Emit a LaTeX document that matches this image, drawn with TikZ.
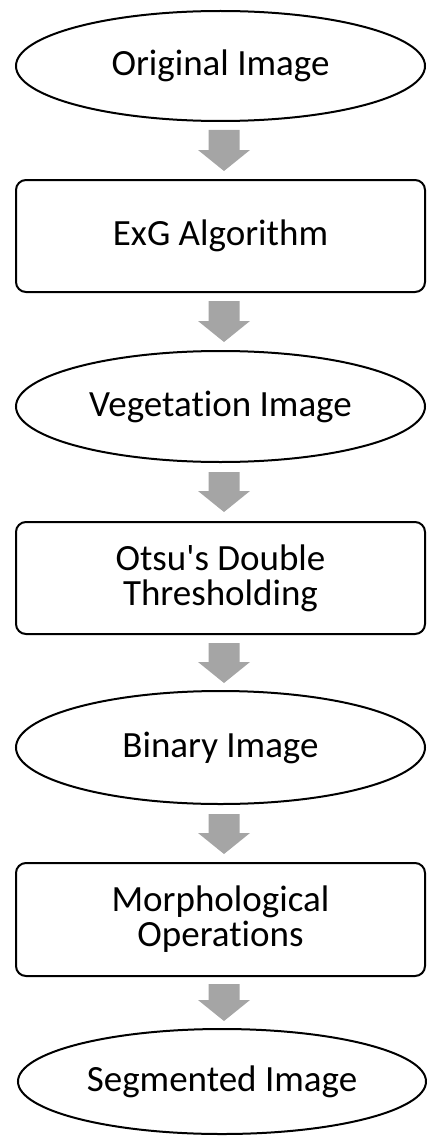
\documentclass[tikz,border=0pt]{standalone}
\usepackage{fontspec}
\setmainfont{Carlito}[Ligatures=NoCommon]
\usetikzlibrary{shapes.geometric,calc}
\definecolor{arrowgray}{RGB}{165,165,165}
\tikzset{
  base/.style={draw=black, line width=2pt, align=center, inner sep=0pt,
    font=\fontsize{37}{35}\selectfont},
  terminal/.style={base, ellipse, minimum width=409pt},
  process/.style={base, rectangle, rounded corners=10pt, minimum width=409pt},
  flow/.style={fill=arrowgray, draw=none, to path={
    let \p1=(\tikztostart), \p2=(\tikztotarget) in
    (\x1-15.5pt,\y1) -- (\x1+15.5pt,\y1) -- (\x1+15.5pt,\y2+21pt)
    -- (\x1+26pt,\y2+21pt) -- (\x2,\y2) -- (\x1-26pt,\y2+21pt)
    -- (\x1-15.5pt,\y2+21pt) -- cycle}},
}
\begin{document}
\begin{tikzpicture}[x=1pt,y=-1pt]
  \useasboundingbox (0,0) rectangle (427,1137);

  \node[terminal, minimum height=110pt] (orig) at (220.5,66) {Original Image};
  \node[process, minimum height=112pt] (exg) at (220.5,236) {ExG Algorithm};
  \node[terminal, minimum height=111pt] (veg) at (220.5,406.5) {Vegetation Image};
  \node[process, minimum height=112pt] (otsu) at (220.5,578) {Otsu\textquotesingle s Double\\Thresholding};
  \node[terminal, minimum height=113pt] (bin) at (220.5,747.5) {Binary Image};
  \node[process, minimum height=113pt] (morph) at (220.5,919.5) {Morphological\\Operations};
  \node[terminal, minimum height=105pt, minimum width=408pt] (seg) at (222,1081.5) {Segmented Image};

  \path[flow] ([shift={(3.5pt,-8pt)}]orig.south) to ([shift={(3.5pt,8pt)}]exg.north);
  \path[flow] ([shift={(3.5pt,-8pt)}]exg.south) to ([shift={(3.5pt,8pt)}]veg.north);
  \path[flow] ([shift={(3.5pt,-9pt)}]veg.south) to ([shift={(3.5pt,9pt)}]otsu.north);
  \path[flow] ([shift={(3.5pt,-8pt)}]otsu.south) to ([shift={(3.5pt,7pt)}]bin.north);
  \path[flow] ([shift={(3.5pt,-9pt)}]bin.south) to ([shift={(3.5pt,8pt)}]morph.north);
  \path[flow] ([shift={(3.5pt,-7pt)}]morph.south) to ([shift={(2pt,7pt)}]seg.north);
\end{tikzpicture}
\end{document}
